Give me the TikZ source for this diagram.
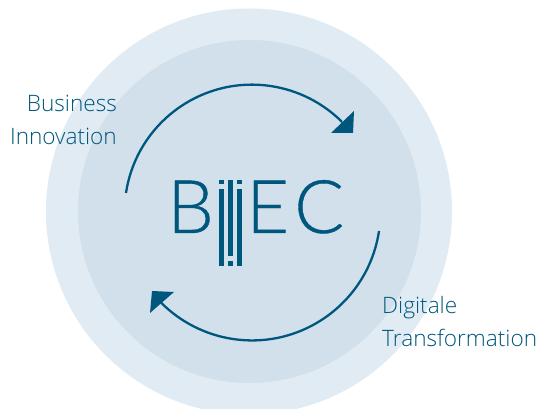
\documentclass[tikz,border=0pt]{standalone}
\usepackage{fontspec}
\setmainfont{Open Sans Light}
\newfontfamily\logofont[FakeBold=0.5]{Lato Light}
\definecolor{ringouter}{HTML}{E1EBF3}
\definecolor{ringinner}{HTML}{D1E0EB}
\definecolor{petrol}{HTML}{00577D}
\tikzset{
  label text/.style={text=petrol,font=\fontsize{22.6}{33}\selectfont,inner sep=0pt},
  logo letter/.style={text=petrol,font=\logofont\fontsize{74}{74}\selectfont,inner sep=0pt,anchor=base west},
  logo bar/.style={fill=petrol,draw=none},
  cycle arc/.style={draw=petrol,line width=2.3pt},
  cycle tip/.style={fill=petrol,draw=none}
}
\begin{document}
\begin{tikzpicture}[x=1pt,y=1pt]
\useasboundingbox (0,0) rectangle (538,409);
\begin{scope}
\clip (0,0) rectangle (538,409);
\fill[ringouter] (249,197.5) circle[radius=203];
\fill[ringinner] (249.5,197.5) circle[radius=171.5];
\end{scope}
% arrows
\coordinate (topstart) at (126,216);
\coordinate (botstart) at (379,178);
\draw[cycle arc] (topstart) arc[start angle=171.4,end angle=45,radius=127.4];
\fill[cycle tip] (354,298) -- (331,276) -- (353,276) -- cycle;
\draw[cycle arc] (botstart) arc[start angle=-8.5,end angle=-135,radius=128.4];
\fill[cycle tip] (152,118) -- (174,117) -- (150,96) -- cycle;
% logo
\node[logo letter] (b) at (167,176) {B};
\node[logo letter] (e) at (246,176) {E};
\node[logo letter] (c) at (294,176) {C};
\fill[logo bar] (219,224.7) rectangle (224,229);
\fill[logo bar] (219,143.3) rectangle (224,220);
\fill[logo bar] (228,153.3) rectangle (233,229);
\fill[logo bar] (228,143.3) rectangle (233,148);
\fill[logo bar] (237.3,224.7) rectangle (242,229);
\fill[logo bar] (237.3,143.3) rectangle (242,220);
% labels
\node[label text,align=right,anchor=north east] (bi) at (117,314) {Business\\Innovation};
\node[label text,align=left,anchor=north west] (dt) at (382,113) {Digitale\\Transformation};
\end{tikzpicture}
\end{document}
